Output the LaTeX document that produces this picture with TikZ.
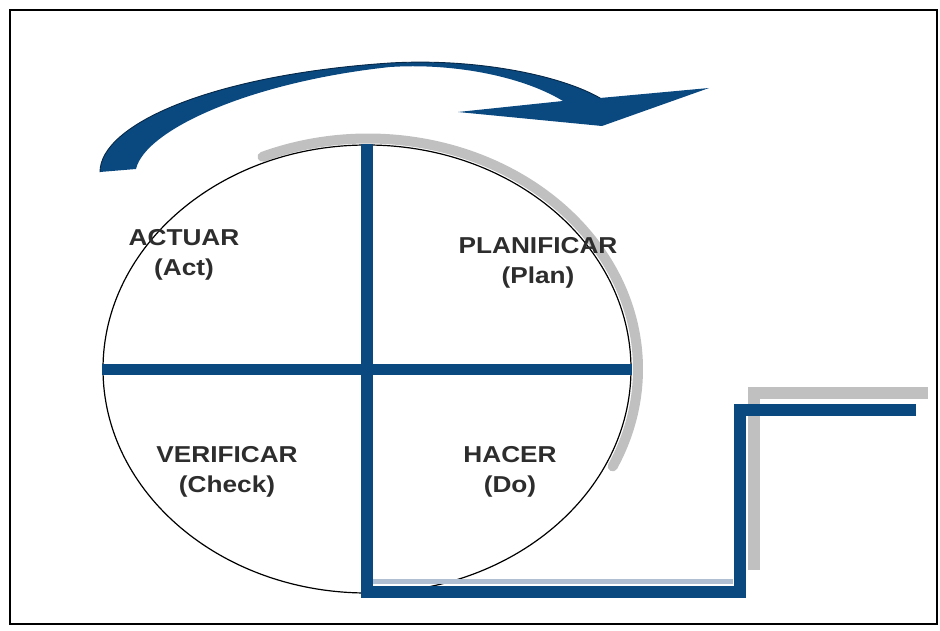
\documentclass[tikz,border=0pt]{standalone}
\usepackage{fontspec}
\newfontfamily\labfont[FakeStretch=1.14]{Liberation Sans}
\usetikzlibrary{shapes.geometric}
\definecolor{pdcablue}{RGB}{10,72,128}
\definecolor{shadowgray}{RGB}{192,192,192}
\definecolor{shadowblue}{RGB}{176,192,210}
\definecolor{labgray}{RGB}{45,45,45}
\begin{document}
\begin{tikzpicture}[x=1pt,y=-1pt,
  bluebar/.style={draw=pdcablue, line width=12pt, line join=miter, line cap=butt},
  graybar/.style={draw=shadowgray, line width=12pt, line join=miter, line cap=butt},
  lab/.style={align=center, text=labgray, inner sep=0pt,
    font={\labfont\bfseries\fontsize{23}{30}\selectfont}}]
\useasboundingbox (0,0) rectangle (940,631);
% frame
\draw[black, line width=2pt] (10,10) rectangle (937,624);
% gray shadow of the circle
\draw[shadowgray, line width=10pt, line cap=round]
  plot[domain=-25:113, samples=90, smooth] ({368+270*cos(\x)},{369-230.5*sin(\x)});
% the cycle
\node[ellipse, draw=black, line width=1.2pt, minimum width=528pt, minimum height=448pt, inner sep=0pt] (ciclo) at (367,369) {};
% step shadows
\coordinate (g1) at (754,570);
\coordinate (g2) at (754,393);
\coordinate (g3) at (928,393);
\draw[graybar] (g1) -- (g2) -- (g3);
\coordinate (s1) at (372,581);
\coordinate (s2) at (733,581);
\draw[shadowblue, line width=5pt] (s1) -- (s2);
% blue cross and step
\coordinate (c1) at (367,592);
\coordinate (c2) at (740,592);
\coordinate (c3) at (740,410);
\coordinate (c4) at (916,410);
\draw[bluebar] (ciclo.north) -- (c1) -- (c2) -- (c3) -- (c4);
\draw[bluebar, line width=11pt] (ciclo.west) -- (ciclo.east);
% curved arrow
\fill[pdcablue] (100,172) .. controls (100,125) and (210,75) .. (390,63)
  .. controls (475,58) and (560,75) .. (600,98)
  -- (709,88) -- (602,126) -- (458,112) -- (563,101)
  .. controls (520,75) and (450,63) .. (390,67)
  .. controls (250,82) and (145,130) .. (136,169) -- cycle;
\draw[pdcablue!55!black, line width=0.9pt, line cap=round]
  (100,172) .. controls (100,125) and (210,75) .. (390,63)
  .. controls (475,58) and (560,75) .. (600,98);
% labels
\node[lab] (act) at (184,255) {ACTUAR\\(Act)};
\node[lab] (plan) at (538,263) {PLANIFICAR\\(Plan)};
\node[lab] (check) at (227,472) {VERIFICAR\\(Check)};
\node[lab] (do) at (510,472) {HACER\\(Do)};
\end{tikzpicture}
\end{document}
